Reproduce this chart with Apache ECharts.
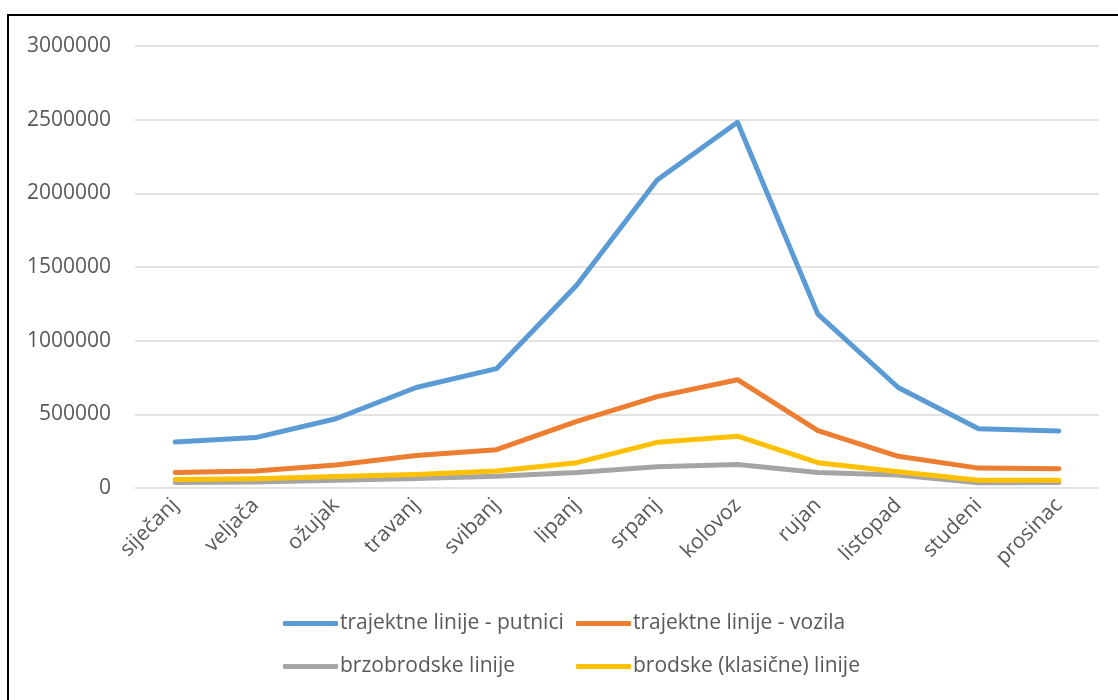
<!DOCTYPE html>
<html>
<head>
<meta charset="utf-8">
<script src="https://cdn.jsdelivr.net/npm/echarts@6/dist/echarts.min.js"></script>
<style>
  html, body { margin: 0; padding: 0; background: #fff; }
  #main { width: 1118px; height: 700px; }
</style>
</head>
<body>
<div id="main"></div>
<script>
// mjeseci
var months = ['siječanj', 'veljača', 'ožujak', 'travanj', 'svibanj', 'lipanj',
  'srpanj', 'kolovoz', 'rujan', 'listopad', 'studeni', 'prosinac'];

var seriesNames = ['trajektne linije - putnici', 'trajektne linije - vozila',
  'brzobrodske linije', 'brodske (klasične) linije'];

var putnici = [312000, 342000, 470000, 682000, 810000, 1378000, 2090000, 2482000, 1180000, 682000, 402000, 387000];
var vozila = [105000, 116000, 156000, 220000, 260000, 452000, 620000, 735000, 390000, 215000, 135000, 130000];
var brzobrodske = [38000, 40000, 52000, 65000, 80000, 105000, 145000, 160000, 105000, 88000, 35000, 37000];
var brodske = [58000, 63000, 78000, 92000, 116000, 172000, 310000, 352000, 172000, 110000, 52000, 52000];

var colors = ['#5B9BD5', '#ED7D31', '#A5A5A5', '#FFC000'];
var yTicks = { min: 0, max: 3000000, interval: 500000 };

var chart = echarts.init(document.getElementById('main'));
var font = 'Open Sans';

function makeLine(name, data, color) {
  return {
    name: name,
    type: 'line',
    data: data,
    symbol: 'none',
    smooth: false,
    lineStyle: { color: color, width: 5, cap: 'round', join: 'round' },
    itemStyle: { color: color },
    animation: false
  };
}

var legendCommon = {
  orient: 'vertical',
  top: 608,
  itemGap: 22,
  itemWidth: 55,
  itemHeight: 5,
  icon: 'roundRect',
  textStyle: { color: '#595959', fontSize: 21, fontFamily: font, padding: [0, 0, 0, -3] }
};

var option = {
  backgroundColor: '#fff',
  textStyle: { fontFamily: font },
  graphic: [{
    type: 'rect',
    shape: { x: 8, y: 15, width: 1300, height: 900 },
    style: { fill: 'none', stroke: '#000', lineWidth: 2 },
    z: 100
  }],
  grid: { left: 135, right: 19, top: 46, bottom: 212 },
  legend: [
    Object.assign({ left: 278, data: [seriesNames[0], seriesNames[2]] }, legendCommon),
    Object.assign({ left: 571, data: [seriesNames[1], seriesNames[3]] }, legendCommon)
  ],
  xAxis: {
    type: 'category',
    data: months,
    boundaryGap: true,
    axisLine: { show: false },
    axisTick: { show: false },
    axisLabel: { rotate: 45, color: '#595959', fontSize: 21, fontFamily: font, margin: 14 }
  },
  yAxis: {
    type: 'value',
    min: yTicks.min,
    max: yTicks.max,
    interval: yTicks.interval,
    axisLine: { show: false },
    axisTick: { show: false },
    axisLabel: {
      color: '#595959', fontSize: 21, fontFamily: font, margin: 24,
      formatter: function (v) { return String(v); }
    },
    splitLine: { lineStyle: { color: '#D9D9D9', width: 1.5 } }
  },
  series: [
    makeLine(seriesNames[0], putnici, colors[0]),
    makeLine(seriesNames[1], vozila, colors[1]),
    makeLine(seriesNames[2], brzobrodske, colors[2]),
    makeLine(seriesNames[3], brodske, colors[3])
  ]
};

chart.setOption(option);
</script>
</body>
</html>
